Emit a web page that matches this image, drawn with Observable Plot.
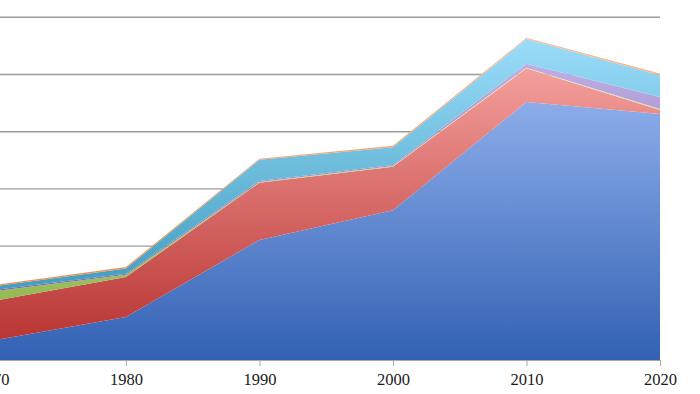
<!DOCTYPE html>
<html>
<head>
<meta charset="utf-8">
<script src="https://cdn.jsdelivr.net/npm/d3@7"></script>
<script src="https://cdn.jsdelivr.net/npm/@observablehq/plot@0.6"></script>
<style>
  html, body { margin: 0; padding: 0; background: #fff; overflow: hidden; }
  #chart { width: 700px; height: 394px; }
</style>
</head>
<body>
<div id="chart"></div>
<script>
// ---- data ----
const years = [1970, 1980, 1990, 2000, 2010, 2020];
const seriesNames = ["Series 1", "Series 2", "Series 3", "Series 4", "Series 5", "Series 6"];
const series1 = [3.4, 7.5, 21.0, 26.2, 45.1, 43.0];   // blue
const series2 = [6.9, 7.0, 10.0, 7.6, 5.9, 0.7];      // red
const series3 = [1.7, 0.4, 0.1, 0.1, 0.1, 0.2];       // green
const series4 = [0.2, 0.2, 0.2, 0.2, 0.7, 2.1];       // purple
const series5 = [0.65, 0.9, 3.7, 3.1, 4.3, 3.8];      // aqua
const series6 = [0.2, 0.25, 0.2, 0.25, 0.25, 0.3];    // orange
const gridTicks = [10, 20, 30, 40, 50, 60];

// gradient colours per series (bottom of plot -> top of plot)
const gradBottom = ["#3261b4", "#b52e2c", "#7eac3a", "#6a4f9a", "#2a8cb0", "#e8803a"];
const gradTop    = ["#aac6fb", "#ffb3b0", "#f4f8c8", "#cdbdf0", "#a2e2ff", "#f8c29c"];

const allSeries = [series1, series2, series3, series4, series5, series6];
const table = [];
seriesNames.forEach((name, i) => {
  years.forEach((yr, j) => table.push({series: name, year: yr, value: allSeries[i][j]}));
});

const W = 700, H = 394;
const chart = Plot.plot({
  width: W,
  height: H,
  marginLeft: 0,
  marginRight: 40,
  marginTop: 16,
  marginBottom: 34,
  style: {background: "#fff", fontFamily: "'Liberation Serif', serif", overflow: "hidden"},
  x: {domain: [1970, 2020], range: [-7.6, 660], axis: null, label: null},
  y: {domain: [0, 60], range: [360, 16.8], axis: null, label: null},
  color: {type: "ordinal", domain: seriesNames, range: seriesNames.map((d, i) => `url(#grad${i})`)},
  marks: [
    Plot.ruleY(gridTicks, {stroke: "#9c9c9c", strokeWidth: 1.4}),
    Plot.areaY(table, Plot.stackY({x: "year", y: "value", z: "series", fill: "series", order: null})),
    Plot.ruleY([0], {stroke: "#a8a8a8", strokeWidth: 1}),
    Plot.axisX({
      ticks: years,
      tickFormat: d => String(d),
      label: null,
      tickSize: 6,
      tickPadding: 7,
      stroke: "#a8a8a8",
      fontSize: 16.5,
      fill: "#1a1a1a",
      fontFamily: "'Liberation Serif', serif"
    })
  ]
});

// gradient definitions, positioned through the y scale
const ys = chart.scale("y");
const yBottom = ys.apply(0), yTop = ys.apply(60);
const svg = d3.select(chart);
const defs = svg.insert("defs", ":first-child");
seriesNames.forEach((name, i) => {
  const g = defs.append("linearGradient")
    .attr("id", `grad${i}`)
    .attr("gradientUnits", "userSpaceOnUse")
    .attr("x1", 0).attr("x2", 0)
    .attr("y1", yBottom).attr("y2", yTop);
  g.append("stop").attr("offset", "0").attr("stop-color", gradBottom[i]);
  g.append("stop").attr("offset", "1").attr("stop-color", gradTop[i]);
});

document.getElementById("chart").appendChild(chart);
</script>
</body>
</html>
